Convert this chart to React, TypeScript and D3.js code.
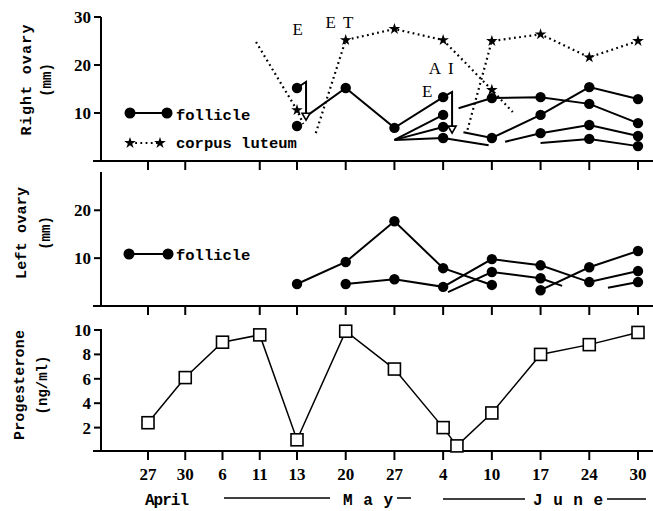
import React from 'react';
import * as d3 from 'd3';

// point = [day from April 27, value, marker flag]
type P = [number, number, number?];

const tickDays = [0, 3, 9, 14, 16, 23, 30, 38, 44, 51, 58, 64];
const tickLabels = ['27', '30', '6', '11', '13', '20', '27', '4', '10', '17', '24', '30'];

const rightFollicles: P[][] = [
  [[16, 15.2, 1]],
  [[16, 7.3, 1]],
  [[17.6, 9.6, 0], [23, 15.2, 1], [30, 6.9, 1], [38, 13.3, 1]],
  [[30, 4.4, 0], [38, 9.6, 1]],
  [[30, 4.4, 0], [38, 7.1, 1]],
  [[30, 4.4, 0], [38, 4.8, 1], [43.6, 3.3, 0]],
  [[39.9, 11.0, 0], [44, 13.1, 1], [51, 13.3, 1], [58, 11.9, 1], [64, 7.9, 1]],
  [[40.5, 6.0, 0], [44, 4.8, 1], [51, 9.6, 1], [58, 15.4, 1], [64, 12.9, 1]],
  [[45.9, 4.0, 0], [51, 5.8, 1], [58, 7.5, 1], [64, 5.2, 1]],
  [[51, 3.75, 0], [58, 4.6, 1], [64, 3.1, 1]],
];

const rightCorpus: P[][] = [
  [[13.5, 24.8, 0], [16, 10.6, 1], [16.9, 7.7, 0]],
  [[18.7, 5.8, 0], [23, 25.2, 1], [30, 27.5, 1], [38, 25.2, 1], [44, 14.8, 1], [47.0, 10.2, 0]],
  [[41.0, 6.5, 0], [44, 25, 1], [51, 26.4, 1], [58, 21.6, 1], [64, 25, 1]],
];

// ovulation arrows (right ovary)
const arrows: [number, number][][] = [
  [[16, 15.2], [17.3, 16.5], [17.3, 8.5]],
  [[38, 13.3], [39.1, 14.4], [39.1, 5.8]],
];

const notes = [
  { t: 'E', d: 16.1, v: 26.3 },
  { t: 'ET', d: 22.6, v: 27.7 },
  { t: 'AI', d: 38.2, v: 18.1 },
  { t: 'E', d: 35.4, v: 13.3 },
];

const leftFollicles: P[][] = [
  [[16, 4.6, 1], [23, 9.2, 1], [30, 17.7, 1], [38, 7.9, 1], [44, 4.4, 1]],
  [[23, 4.6, 1], [30, 5.6, 1], [38, 4.0, 1], [44, 9.8, 1], [51, 8.5, 1], [58, 5.0, 1], [64, 7.3, 1]],
  [[38.6, 2.9, 0], [44, 7.1, 1], [51, 5.8, 1], [54.1, 4.2, 0]],
  [[51, 3.3, 1], [58, 8.1, 1], [64, 11.5, 1]],
  [[60.3, 3.8, 0], [64, 5.0, 1]],
];

const progDays = [0, 3, 9, 14, 16, 23, 30, 38, 39.7, 44, 51, 58, 64];
const progValues = [2.4, 6.1, 9.0, 9.6, 1.0, 9.9, 6.8, 2.0, 0.5, 3.2, 8.0, 8.8, 9.8];

const W = 653;
const H = 511;
const AX = 101;
const serif = '"Liberation Serif", "DejaVu Serif", serif';
const mono = '"Liberation Mono", "DejaVu Sans Mono", monospace';

// ticks are not spaced by calendar: first stretch is tighter
const idx = d3.scaleLinear().domain(tickDays).range(d3.range(tickDays.length));
const pos = d3.scaleLinear().domain([0, 4, 11]).range([148, 297, 638]);
const x = (d: number) => pos(idx(d));

const yR = d3.scaleLinear().domain([0, 30]).range([161, 17]);
const yL = d3.scaleLinear().domain([0, 28]).range([306, 172]);
const yP = d3.scaleLinear().domain([0, 10]).range([452, 330]);

const star = d3.symbol(d3.symbolStar, 42)() as string;

function YAxis({ y, ticks, top }: { y: d3.ScaleLinear<number, number>; ticks: number[]; top: number }) {
  const y0 = y(0);
  return (
    <g>
      <line x1={AX} x2={AX} y1={top} y2={y0} stroke="#000" strokeWidth={2} />
      {ticks.map((t) => (
        <g key={t}>
          <line x1={AX - 7} x2={AX} y1={y(t)} y2={y(t)} stroke="#000" strokeWidth={2} />
          <text x={AX - 10} y={y(t) + 6} textAnchor="end" fontFamily={serif} fontWeight="bold" fontSize={17}>
            {t}
          </text>
        </g>
      ))}
    </g>
  );
}

function XAxis({ y0, skip }: { y0: number; skip: number[] }) {
  return (
    <g>
      <line x1={93} x2={W} y1={y0} y2={y0} stroke="#000" strokeWidth={2} />
      {tickDays.map((d, i) =>
        skip.includes(i) ? null : (
          <line key={i} x1={x(d)} x2={x(d)} y1={y0} y2={y0 + 9} stroke="#000" strokeWidth={2} />
        )
      )}
    </g>
  );
}

function Title({ cx, cy, text, len, sub, subX }: { cx: number; cy: number; text: string; len: number; sub: string; subX: number }) {
  return (
    <g fontFamily={mono} fontWeight="bold" fontSize={15}>
      <text transform={`translate(${cx},${cy}) rotate(-90)`} textAnchor="middle" textLength={len} lengthAdjust="spacing">
        {text}
      </text>
      <text transform={`translate(${subX},${cy}) rotate(-90)`} textAnchor="middle" fontSize={14}>
        {sub}
      </text>
    </g>
  );
}

export default function App() {
  const lineR = d3.line<P>().x((p) => x(p[0])).y((p) => yR(p[1]));
  const lineL = d3.line<P>().x((p) => x(p[0])).y((p) => yL(p[1]));
  const lineA = d3.line<[number, number]>().x((p) => x(p[0])).y((p) => yR(p[1]));
  const lineP = d3.line<number>().x((_, i) => x(progDays[i])).y((v) => yP(v));

  return (
    <div style={{ position: 'absolute', left: 0, top: 0 }}>
      <svg width={W} height={H} style={{ display: 'block', background: '#fff' }}>
        {/* right ovary */}
        <Title cx={31} cy={80} text="Right ovary" len={111} sub="(mm)" subX={51} />
        <YAxis y={yR} ticks={[10, 20, 30]} top={17} />
        <XAxis y0={161} skip={[2]} />
        {rightCorpus.map((s, i) => (
          <g key={i}>
            <path d={lineR(s) || ''} fill="none" stroke="#000" strokeWidth={2.2} strokeDasharray="1.8 3.4" />
            {s.filter((p) => p[2]).map((p, j) => (
              <path key={j} d={star} transform={`translate(${x(p[0])},${yR(p[1])})`} fill="#000" />
            ))}
          </g>
        ))}
        {rightFollicles.map((s, i) => (
          <g key={i}>
            <path d={lineR(s) || ''} fill="none" stroke="#000" strokeWidth={2} />
            {s.filter((p) => p[2]).map((p, j) => (
              <circle key={j} cx={x(p[0])} cy={yR(p[1])} r={5.2} fill="#000" />
            ))}
          </g>
        ))}
        {arrows.map((a, i) => {
          const e = a[a.length - 1];
          const ex = x(e[0]);
          const ey = yR(e[1]);
          return (
            <g key={i}>
              <path d={lineA(a.slice(0, -1).concat([[e[0], e[1] + 1.4]])) || ''} fill="none" stroke="#000" strokeWidth={2} />
              <path d={`M${ex - 4},${ey - 7}L${ex + 4},${ey - 7}L${ex},${ey}Z`} fill="#fff" stroke="#000" strokeWidth={1.6} />
            </g>
          );
        })}
        {notes.map((n, i) => (
          <text key={i} x={x(n.d)} y={yR(n.v)} textAnchor="middle" fontFamily={serif} fontSize={17} letterSpacing={n.t.length > 1 ? 7 : 0}>
            {n.t}
          </text>
        ))}
        {/* legend */}
        <line x1={130} x2={167} y1={113} y2={113} stroke="#000" strokeWidth={2} />
        <circle cx={130} cy={113} r={5.5} />
        <circle cx={167} cy={113} r={5.5} />
        <text x={176} y={120} fontFamily={mono} fontWeight="bold" fontSize={15.5}>follicle</text>
        <line x1={130} x2={160} y1={143} y2={143} stroke="#000" strokeWidth={2.2} strokeDasharray="1.8 3.4" />
        <path d={star} transform="translate(130,143)" />
        <path d={star} transform="translate(160,143)" />
        <text x={176} y={148} fontFamily={mono} fontWeight="bold" fontSize={15.5}>corpus luteum</text>

        {/* left ovary */}
        <Title cx={26} cy={233} text="Left ovary" len={92} sub="(mm)" subX={50} />
        <YAxis y={yL} ticks={[10, 20]} top={172} />
        <XAxis y0={306} skip={[2]} />
        {leftFollicles.map((s, i) => (
          <g key={i}>
            <path d={lineL(s) || ''} fill="none" stroke="#000" strokeWidth={2} />
            {s.filter((p) => p[2]).map((p, j) => (
              <circle key={j} cx={x(p[0])} cy={yL(p[1])} r={5.2} fill="#000" />
            ))}
          </g>
        ))}
        <line x1={129} x2={168} y1={254} y2={254} stroke="#000" strokeWidth={2} />
        <circle cx={129} cy={254} r={5.5} />
        <circle cx={168} cy={254} r={5.5} />
        <text x={176} y={260} fontFamily={mono} fontWeight="bold" fontSize={15.5}>follicle</text>

        {/* progesterone */}
        <Title cx={24} cy={385} text="Progesterone" len={110} sub="(ng/ml)" subX={47} />
        <YAxis y={yP} ticks={[2, 4, 6, 8, 10]} top={329} />
        <XAxis y0={451} skip={[]} />
        <path d={lineP(progValues) || ''} fill="none" stroke="#000" strokeWidth={1.5} />
        {progValues.map((v, i) => (
          <rect key={i} x={x(progDays[i]) - 6} y={yP(v) - 6} width={12} height={12} fill="#fff" stroke="#000" strokeWidth={1.6} />
        ))}
        {tickDays.map((d, i) => (
          <text key={i} x={x(d)} y={480} textAnchor="middle" fontFamily={serif} fontWeight="bold" fontSize={17}>
            {tickLabels[i]}
          </text>
        ))}
        {/* months */}
        <g fontFamily={mono} fontWeight="bold" fontSize={16}>
          <text x={145} y={505} textLength={44} lengthAdjust="spacing">April</text>
          <line x1={224} x2={330} y1={498} y2={498} stroke="#000" strokeWidth={1.5} />
          <text x={343} y={505} textLength={50} lengthAdjust="spacing">May</text>
          <line x1={397} x2={411} y1={498} y2={498} stroke="#000" strokeWidth={1.5} />
          <line x1={443} x2={525} y1={499} y2={499} stroke="#000" strokeWidth={1.5} />
          <text x={533} y={505} textLength={70} lengthAdjust="spacing">June</text>
          <line x1={607} x2={646} y1={499} y2={499} stroke="#000" strokeWidth={1.5} />
        </g>
      </svg>
    </div>
  );
}
